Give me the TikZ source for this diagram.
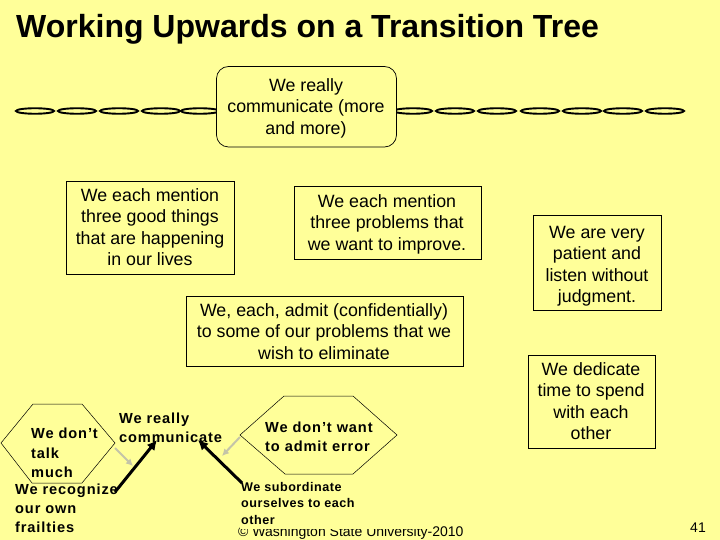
\documentclass[tikz,border=0pt]{standalone}
\usepackage{fontspec}
\setmainfont{Liberation Sans}
\usetikzlibrary{shapes.geometric,arrows.meta}
\definecolor{bgy}{HTML}{FFFF99}
\definecolor{grayarrow}{HTML}{C4C4A8}
\newcommand{\fsz}[2]{\fontsize{#1}{#2}\selectfont}
\tikzset{
  x=1pt,y=-1pt,
  tbox/.style={draw=black,line width=0.7pt,fill=bgy},
  body/.style={align=center,inner sep=0pt,font=\fsz{17.8}{21.5}},
  link/.style={ellipse,draw=black,line width=1.9pt,fill=bgy,minimum width=38pt,minimum height=5.5pt,inner sep=0pt},
  boldtxt/.style={align=left,anchor=north west,inner sep=0pt,font=\bfseries\fsz{14.6}{19.3}\addfontfeatures{LetterSpace=6}},
  hexa/.style={draw=black,line width=0.5pt},
  grayarr/.style={draw=grayarrow,line width=2pt,-{Latex[length=7pt,width=7pt]}},
  blackarr/.style={draw=black,line width=3pt,-{Latex[length=10pt,width=10pt]}},
}
\begin{document}
\begin{tikzpicture}
\useasboundingbox (0,0) rectangle (720,540);
\fill[bgy] (0,0) rectangle (720,540);
\clip (0,0) rectangle (720,540);
\node[anchor=west,inner sep=0pt,font=\bfseries\fsz{32}{36}] (title) at (16,29) {Working Upwards on a Transition Tree};
% chain
\foreach \n/\cx in {l1/35,l2/77,l3/119,l4/161,l5/200,r1/413,r2/455,r3/497,r4/540,r5/582,r6/623,r7/665}
  \node[link] (\n) at (\cx,111) {};
% boxes
\path[tbox,rounded corners=12pt] (216.5,66.5) rectangle (396.5,147);
\node[body] (top) at (306,108) {We really\\communicate (more\\and more)};
\path[tbox] (66.5,181.5) rectangle (234.5,274.5);
\node[body] (good) at (150,227) {We each mention\\three good things\\that are happening\\in our lives};
\path[tbox] (294.5,186.5) rectangle (481.5,259);
\node[body] (prob) at (387,224) {We each mention\\three problems that\\we want to improve.};
\path[tbox] (186.5,296.5) rectangle (463.5,366.5);
\node[body] (admit) at (324,331.5) {We, each, admit (confidentially)\\to some of our problems that we\\wish to eliminate};
\path[tbox] (533.5,215.5) rectangle (661.5,310.5);
\node[body] (patient) at (597,266) {We are very\\patient and\\listen without\\judgment.};
\path[tbox] (528.5,355.5) rectangle (655.5,448.5);
\node[body] (time) at (591,401) {We dedicate\\time to spend\\with each\\other};
% hexagons
\draw[hexa] (1,443) -- (33,404) -- (82,404) -- (115,443) -- (82,483) -- (32,483) -- cycle;
\draw[hexa] (240,435) -- (284,396) -- (353,396) -- (397,435) -- (353,474) -- (285,474) -- cycle;
% copyright, partly covered by the text box above it
\node[anchor=west,inner sep=0pt,font=\fsz{14}{16}] (copy) at (238,533) {© Washington State University-2010};
\fill[bgy] (240,497) rectangle (432,529);
\node[anchor=east,inner sep=0pt,font=\fsz{14}{16}] (page) at (706,528) {41};
% bold text
\node[boldtxt] (dont) at (31,428) {We don’t\\talk\\much};
\node[boldtxt] (recog) at (15,483.5) {We recognize\\our own\\frailties};
\node[boldtxt] (comm) at (119,412.5) {We really\\communicate};
\node[boldtxt] (wont) at (265,421.5) {We don’t want\\to admit error};
\node[boldtxt,font=\bfseries\fsz{12.6}{16.6}\addfontfeatures{LetterSpace=4}] (sub) at (241,482) {We subordinate\\ourselves to each\\other};
% arrows
\coordinate (g1s) at (115,448);
\coordinate (g1e) at (133,466);
\coordinate (g2s) at (240,437);
\coordinate (g2e) at (222,456);
\draw[grayarr] (g1s) -- (g1e);
\draw[grayarr] (g2s) -- (g2e);
\coordinate (b1s) at (115,492);
\coordinate (b1e) at (157,440);
\coordinate (b2s) at (242,483);
\coordinate (b2e) at (198,440);
\draw[blackarr] (b1s) -- (b1e);
\draw[blackarr] (b2s) -- (b2e);
\end{tikzpicture}
\end{document}
